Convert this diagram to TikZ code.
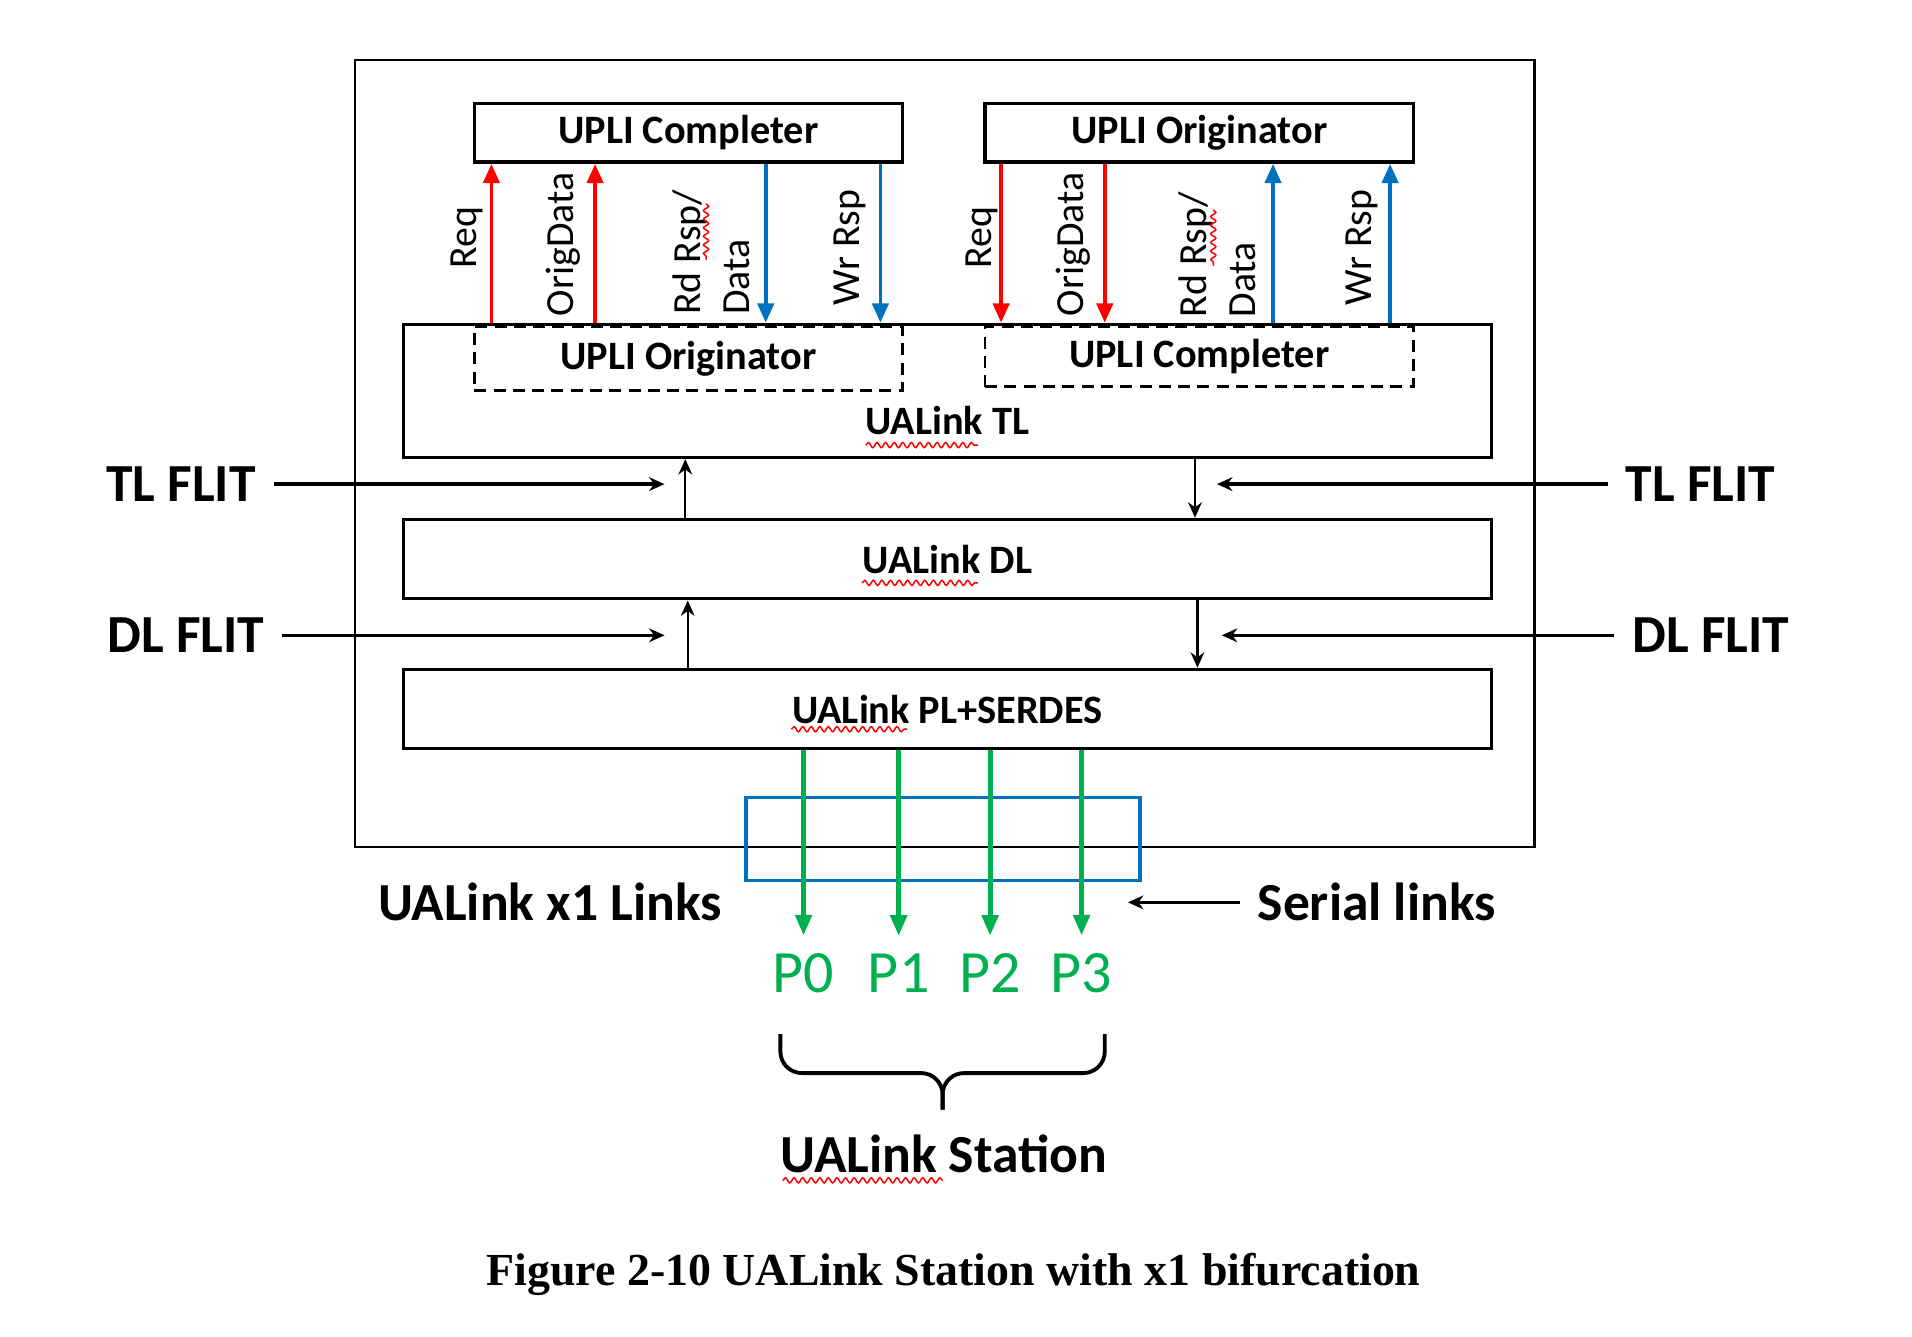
\documentclass[tikz,border=0pt]{standalone}
\usepackage{fontspec}
\setmainfont{Carlito}
\newfontfamily\captionserif{Liberation Serif}
\usepackage{tikz}
\usetikzlibrary{arrows.meta,positioning,decorations.pathmorphing}
\definecolor{linkred}{HTML}{FF0000}
\definecolor{linkblue}{HTML}{0070C0}
\definecolor{linkgreen}{HTML}{00B050}
\tikzset{
  frame/.style={
    draw=black,
    line width=0.55pt,
    inner sep=0pt
  },
  layerbox/.style={
    draw=black,
    line width=0.8pt,
    minimum width=8.92cm,
    inner sep=0pt,
    font=\fontsize{9.4}{11}\selectfont\bfseries
  },
  uplibox/.style={
    draw=black,
    line width=0.8pt,
    minimum width=3.51cm,
    minimum height=0.48cm,
    inner sep=0pt,
    font=\fontsize{9.4}{11}\selectfont\bfseries
  },
  dashbox/.style={
    uplibox,
    line width=0.6pt,
    dash pattern=on 2.8pt off 1.7pt
  },
  layertext/.style={
    inner sep=0pt,
    font=\fontsize{9.4}{11}\selectfont\bfseries
  },
  chanlabel/.style={
    rotate=90,
    anchor=west,
    inner sep=0pt,
    align=left,
    font=\fontsize{9.3}{11.4}\selectfont
  },
  chan/.style={
    -{Triangle[length=4.5pt,width=3.8pt]},
    line width=0.85pt
  },
  flitlabel/.style={
    inner sep=4pt,
    font=\fontsize{12.5}{14}\selectfont\bfseries
  },
  flit/.style={
    -{Stealth[length=3.6pt,width=3.2pt]},
    line width=0.5pt,
    draw=black
  },
  feed/.style={
    flit,
    line width=0.8pt
  },
  lane/.style={
    -{Triangle[length=4.8pt,width=3.8pt]},
    line width=1.1pt,
    draw=linkgreen
  },
  portlabel/.style={
    inner sep=4pt,
    text=linkgreen,
    font=\fontsize{14}{16}\selectfont
  },
  serialbox/.style={
    draw=linkblue,
    line width=0.9pt,
    minimum width=3.23cm,
    minimum height=0.68cm,
    inner sep=0pt
  },
  bracestroke/.style={
    draw=black,
    line width=0.9pt,
    rounded corners=5pt
  },
  squiggle/.style={
    draw=linkred,
    line width=0.35pt,
    decorate,
    decoration={snake,amplitude=0.6pt,segment length=2pt}
  }
}

\begin{document}
\begin{tikzpicture}[x=0.01cm, y=-0.01cm]
\useasboundingbox[fill=white] (0,0) rectangle (1568,1096);
% station frame
\node[frame, minimum width=9.67cm, minimum height=6.45cm, anchor=north west] (station) at (290,48) {};
% UPLI blocks on top
\node[uplibox] (ucmpl) at (564.5,109) {UPLI Completer};
\node[uplibox] (uorig) at (983.5,109) {UPLI Originator};
% layers
\node[layerbox, minimum height=1.09cm] (tl) at (777,320.5) {};
\node[layertext] (tltext) at (777,345) {UALink TL};
\node[dashbox, minimum height=0.52cm] (dorig) at (564.5,294) {UPLI Originator};
\node[dashbox, minimum height=0.49cm] (dcmpl) at (983.5,292.5) {UPLI Completer};
\node[layerbox, minimum height=0.65cm] (dl) at (777,458.5) {UALink DL};
\node[layerbox, minimum height=0.65cm] (pl) at (777,581.5) {UALink PL+SERDES};

% UPLI channels
\foreach \x in {403,488} {
  \coordinate (ch) at (\x,0);
  \draw[chan, linkred] (ch |- tl.north) -- (ch |- ucmpl.south);
}
\foreach \x in {628,722} {
  \coordinate (ch) at (\x,0);
  \draw[chan, linkblue] (ch |- ucmpl.south) -- (ch |- tl.north);
}
\foreach \x in {821,906} {
  \coordinate (ch) at (\x,0);
  \draw[chan, linkred] (ch |- uorig.south) -- (ch |- tl.north);
}
\foreach \x in {1044,1140} {
  \coordinate (ch) at (\x,0);
  \draw[chan, linkblue] (ch |- tl.north) -- (ch |- uorig.south);
}
\node[chanlabel] (lreqL) at (383,221) {Req};
\node[chanlabel] (lorigL) at (462,260) {OrigData};
\node[chanlabel] (lrdL) at (583,259) {Rd Rsp/\\Data};
\node[chanlabel] (lwrL) at (697,251) {Wr Rsp};
\node[chanlabel] (lreqR) at (805,221) {Req};
\node[chanlabel] (lorigR) at (880,260) {OrigData};
\node[chanlabel] (lrdR) at (998,261) {Rd Rsp/\\Data};
\node[chanlabel] (lwrR) at (1117,251) {Wr Rsp};

% FLIT paths
\node[flitlabel] (tlflL) at (148.5,397) {TL FLIT};
\node[flitlabel] (tlflR) at (1394.5,397) {TL FLIT};
\node[flitlabel] (dlflL) at (152.5,521) {DL FLIT};
\node[flitlabel] (dlflR) at (1403,521) {DL FLIT};
\coordinate (tlinL) at (545,397);
\coordinate (tlinR) at (998,397);
\coordinate (dlinL) at (545,521);
\coordinate (dlinR) at (1002,521);
\draw[feed] (tlflL) -- (tlinL);
\draw[feed] (tlflR) -- (tlinR);
\draw[feed] (dlflL) -- (dlinL);
\draw[feed] (dlflR) -- (dlinR);
\coordinate (upT) at (562,0);
\coordinate (dnT) at (980,0);
\coordinate (upD) at (564,0);
\coordinate (dnD) at (982,0);
\draw[flit] (upT |- dl.north) -- (upT |- tl.south);
\draw[flit] (dnT |- tl.south) -- (dnT |- dl.north);
\draw[flit] (upD |- pl.north) -- (upD |- dl.south);
\draw[flit] (dnD |- dl.south) -- (dnD |- pl.north);

% serial lanes
\node[serialbox] (serial) at (773.5,688) {};
\foreach \i/\x in {0/659,1/737,2/812,3/887} {
  \node[portlabel] (p\i) at (\x,798) {P\i};
  \draw[lane] (p\i |- pl.south) -- (p\i.north);
}
\node[flitlabel] (x1lbl) at (451,740) {UALink x1 Links};
\node[flitlabel] (serlbl) at (1129,740) {Serial links};
\coordinate (serin) at (925,740);
\draw[feed] (serlbl) -- (serin);

% station brace
\draw[bracestroke] (640,848) -- (640,880) -- (773,880) -- (773,910);
\draw[bracestroke] (906,848) -- (906,880) -- (773,880) -- (773,910);
\node[flitlabel] (stlbl) at (774,946) {UALink Station};

% spelling marks
\draw[squiggle] (710,365) -- (802,365);
\draw[squiggle] (707,478) -- (802,478);
\draw[squiggle] (649,598) -- (744,598);
\draw[squiggle] (642,968) -- (773,968);
\draw[squiggle] (579,167) -- (579,213);
\draw[squiggle] (995,172) -- (995,218);

\node[font=\captionserif\bfseries\fontsize{10.7}{12}\selectfont] (cap) at (782,1045) {Figure 2-10 UALink Station with x1 bifurcation};
\end{tikzpicture}
\end{document}
